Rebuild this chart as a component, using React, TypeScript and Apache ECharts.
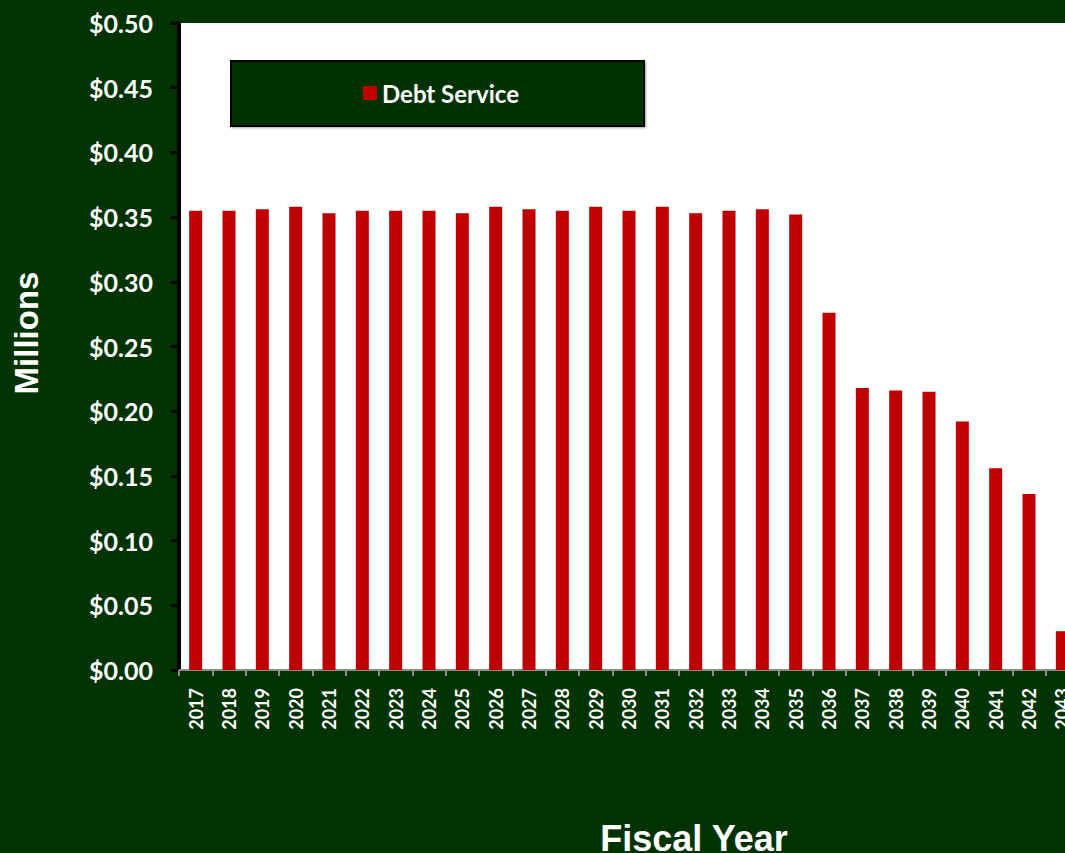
import React, { useEffect, useRef } from "react";
import * as echarts from "echarts";

const years = [
  "2017", "2018", "2019", "2020", "2021", "2022", "2023", "2024", "2025",
  "2026", "2027", "2028", "2029", "2030", "2031", "2032", "2033", "2034",
  "2035", "2036", "2037", "2038", "2039", "2040", "2041", "2042", "2043",
];
const debtService = [
  0.355, 0.355, 0.356, 0.358, 0.353, 0.355, 0.355, 0.355, 0.353,
  0.358, 0.356, 0.355, 0.358, 0.355, 0.358, 0.353, 0.355, 0.356,
  0.352, 0.276, 0.218, 0.216, 0.215, 0.192, 0.156, 0.136, 0.030,
];
const seriesName = "Debt Service";
const yTitle = "Millions";
const xTitle = "Fiscal Year";

const BG = "#003300";
const LABEL_FONT = "Lato, 'Open Sans', sans-serif";
const TITLE_FONT = "'Liberation Sans', Arial, sans-serif";

export default function App() {
  const ref = useRef<HTMLDivElement>(null);
  useEffect(() => {
    if (!ref.current) return;
    const chart = echarts.init(ref.current, null, { renderer: "svg" });
    chart.setOption({
      animation: false,
      backgroundColor: BG,
      grid: {
        left: 179,
        top: 23,
        width: 900,
        height: 647,
        show: true,
        backgroundColor: "#ffffff",
        borderWidth: 0,
      },
      legend: {
        show: true,
        left: 358,
        top: 76,
        z: 6,
        icon: "rect",
        itemWidth: 14,
        itemHeight: 14,
        itemGap: 8,
        textStyle: {
          color: "#ffffff",
          fontFamily: LABEL_FONT,
          fontWeight: "bold",
          fontSize: 24,
        },
        data: [seriesName],
      },
      xAxis: {
        type: "category",
        data: years,
        axisLine: { show: true, lineStyle: { color: "#8c8c8c", width: 2 } },
        axisTick: {
          show: true,
          alignWithLabel: false,
          length: 6,
          lineStyle: { color: "#8c8c8c", width: 2 },
        },
        axisLabel: {
          rotate: 90,
          margin: 18,
          color: "#ffffff",
          fontFamily: LABEL_FONT,
          fontWeight: "bold",
          fontSize: 18,
          interval: 0,
        },
        splitLine: { show: false },
      },
      yAxis: {
        type: "value",
        min: 0,
        max: 0.5,
        interval: 0.05,
        axisLine: { show: true, lineStyle: { color: "#000000", width: 4 } },
        axisTick: {
          show: true,
          length: 8,
          lineStyle: { color: "#000000", width: 3 },
        },
        splitLine: { show: false },
        axisLabel: {
          margin: 26,
          color: "#ffffff",
          fontFamily: LABEL_FONT,
          fontWeight: "bold",
          fontSize: 25,
          formatter: (v: number) => "$" + v.toFixed(2),
        },
      },
      graphic: [
        {
          type: "rect",
          z: 3,
          shape: { x: 231, y: 61, width: 413, height: 65 },
          style: {
            fill: BG,
            stroke: "#000000",
            lineWidth: 2,
            shadowColor: "rgba(0,0,0,0.35)",
            shadowBlur: 2,
            shadowOffsetX: 1,
            shadowOffsetY: 1,
          },
        },
        {
          type: "text",
          z: 3,
          x: 26,
          y: 333,
          rotation: Math.PI / 2,
          style: {
            text: yTitle,
            fill: "#ffffff",
            font: `bold 33px ${TITLE_FONT}`,
            align: "center",
            verticalAlign: "middle",
          },
        },
        {
          type: "text",
          z: 3,
          x: 694,
          y: 838,
          style: {
            text: xTitle,
            fill: "#ffffff",
            font: `bold 36px ${TITLE_FONT}`,
            align: "center",
            verticalAlign: "middle",
          },
        },
      ],
      series: [
        {
          name: seriesName,
          type: "bar",
          data: debtService,
          barWidth: 13,
          itemStyle: { color: "#c00000" },
        },
      ],
    });
    return () => chart.dispose();
  }, []);
  return (
    <div
      style={{
        position: "fixed",
        left: 0,
        top: 0,
        width: 1065,
        height: 853,
        overflow: "hidden",
        background: BG,
      }}
    >
      <div ref={ref} style={{ width: 1200, height: 853 }} />
    </div>
  );
}
